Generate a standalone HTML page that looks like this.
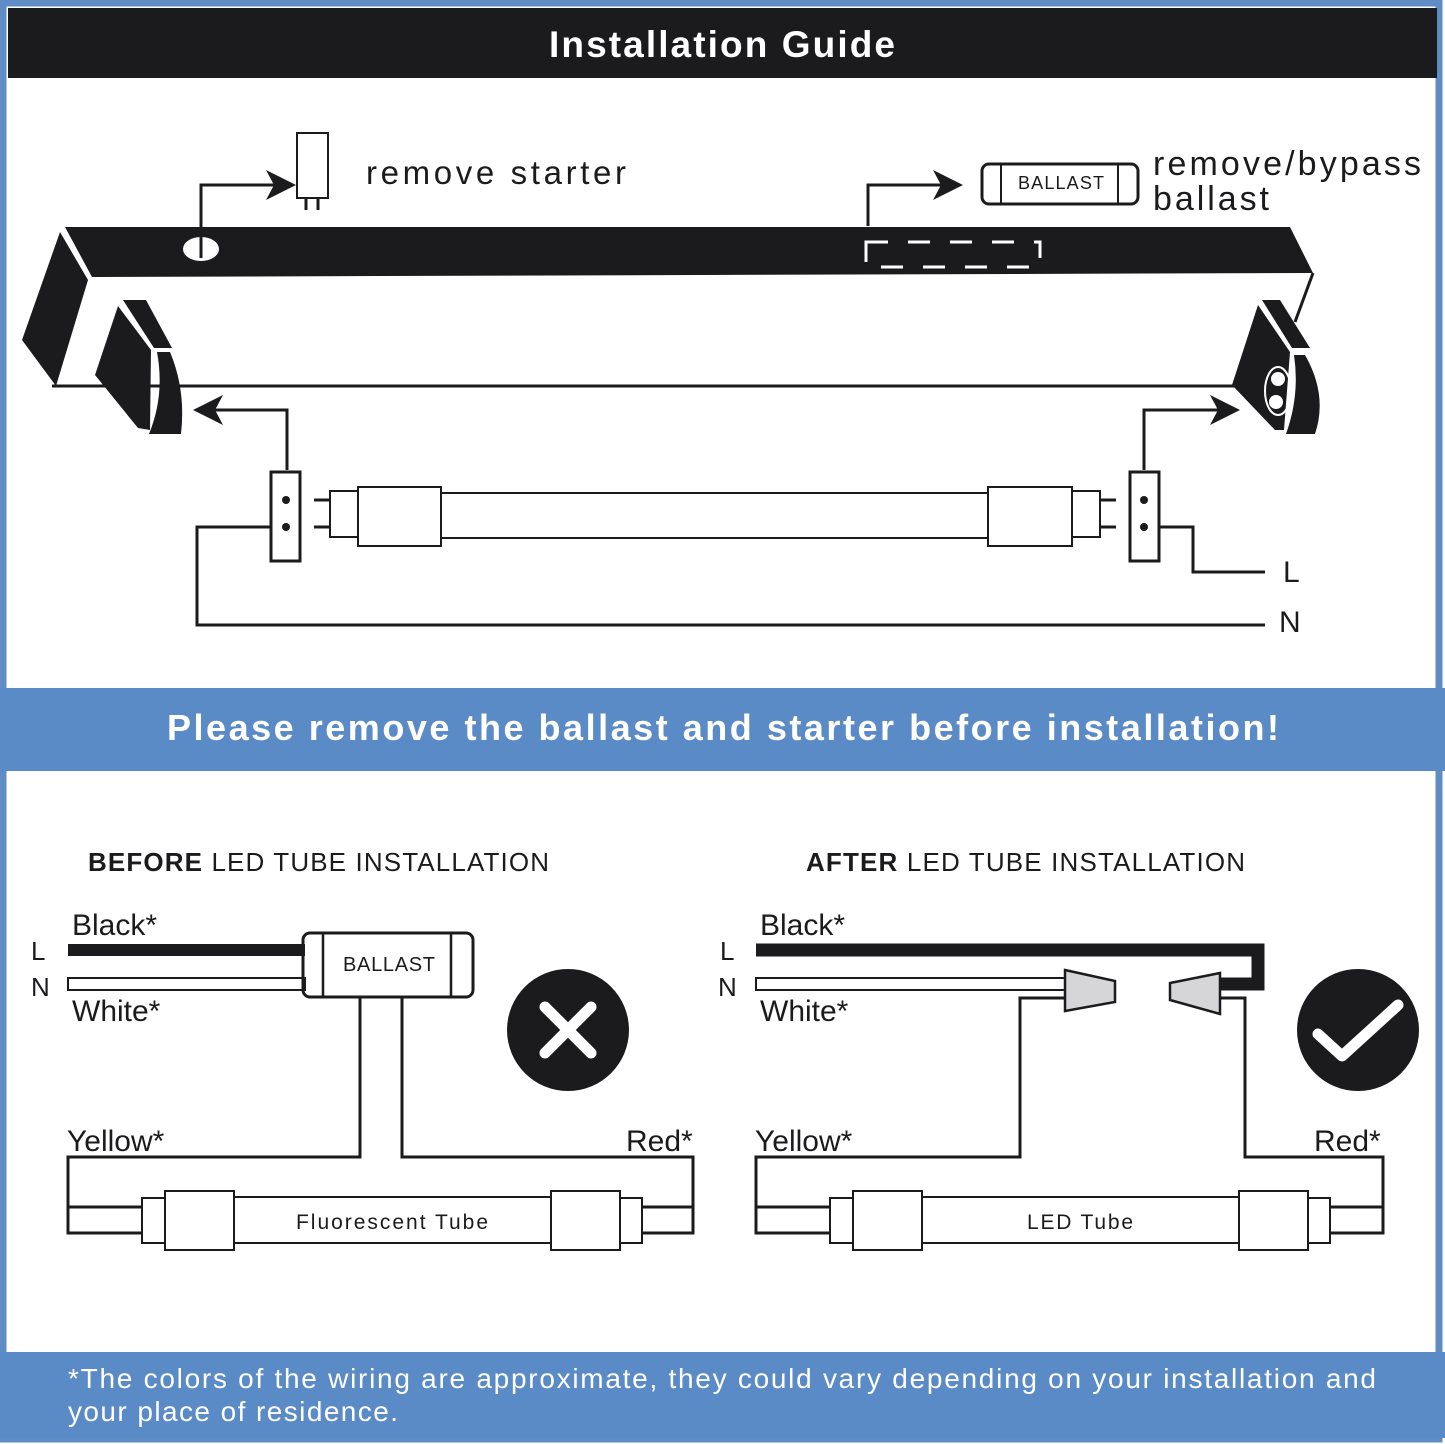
<!DOCTYPE html>
<html><head><meta charset="utf-8"><style>
html,body{margin:0;padding:0;background:#fff}
svg{display:block}
text{font-family:"Liberation Sans",sans-serif}
</style></head><body>
<svg width="1445" height="1444" viewBox="0 0 1445 1444" xmlns="http://www.w3.org/2000/svg">
<rect x="0" y="0" width="1445" height="1444" fill="#fff"/>
<!-- frame -->
<rect x="3" y="3" width="1436" height="1436" fill="none" stroke="#5f8cc4" stroke-width="7"/>
<rect x="8" y="8" width="1429" height="70" fill="#1b1b1d"/>
<text x="722" y="57" font-size="37" font-weight="bold" fill="#fff" text-anchor="middle" textLength="346">Installation Guide</text>
<rect x="0" y="688" width="1445" height="83" fill="#5b8bc7"/>
<text x="723" y="740" font-size="36" font-weight="bold" fill="#fff" text-anchor="middle" textLength="1112">Please remove the ballast and starter before installation!</text>
<rect x="0" y="1352" width="1445" height="86" fill="#5b8bc7"/>
<text x="68" y="1388" font-size="28" fill="#fff" textLength="1308">*The colors of the wiring are approximate, they could vary depending on your installation and</text>
<text x="68" y="1421" font-size="28" fill="#fff" textLength="330">your place of residence.</text>

<g fill="#1b1b1d" stroke="none">
<!-- top bar -->
<polygon points="65,227 1290,227 1313,273 92,277"/>
<polygon points="60,232 88,280 56,386 22,340"/>
<!-- left end cap -->
<polygon points="123,300 146,300 172,348 154,348"/>
<polygon points="118,306 151,350 150,430 138,428 95,375"/>
<path d="M157,352 L170,352 Q186,390 181,434 L149,434 Q165,395 157,352 Z"/>
<!-- right end cap -->
<polygon points="1262,300 1280,300 1310,348 1292,348"/>
<polygon points="1258,305 1290,352 1284,430 1275,430 1232,385"/>
<path d="M1294,355 L1305,355 Q1328,395 1315,434 L1286,434 Q1300,395 1294,355 Z"/>
</g>
<line x1="1313" y1="273" x2="1295" y2="322" stroke="#1b1b1d" stroke-width="3"/>
<ellipse cx="1278" cy="391" rx="13" ry="24" fill="none" stroke="#fff" stroke-width="2"/>
<circle cx="1278" cy="379" r="7" fill="#fff"/>
<circle cx="1276" cy="402" r="7" fill="#fff"/>
<line x1="52" y1="386" x2="1242" y2="386" stroke="#1b1b1d" stroke-width="3"/>
<!-- starter hole -->
<ellipse cx="201" cy="249" rx="18" ry="12" fill="#fff"/>
<g fill="none" stroke="#1b1b1d" stroke-width="3">
<polyline points="201,258 201,185 280,185"/>
<rect x="297" y="133" width="31" height="65" stroke-width="2"/>
<line x1="306" y1="198" x2="306" y2="210"/><line x1="318" y1="198" x2="318" y2="210"/>
<polyline points="868,226 868,185 948,185"/>
<rect x="982" y="164" width="156" height="40" rx="7"/>
<line x1="1001" y1="164" x2="1001" y2="204" stroke-width="2"/>
<line x1="1118" y1="164" x2="1118" y2="204" stroke-width="2"/>
<!-- tube arrows -->
<polyline points="287,470 287,410 210,410"/>
<polyline points="1144,470 1144,410 1225,410"/>
</g>
<rect x="866" y="242" width="174" height="25" fill="none" stroke="#fff" stroke-width="3" stroke-dasharray="22,20"/>
<g fill="#1b1b1d">
<polygon points="296,185 266,170 274,185 266,200"/>
<polygon points="963,185 933,170 941,185 933,200"/>
<polygon points="193,410 223,395 215,410 223,425"/>
<polygon points="1240,410 1210,395 1218,410 1210,425"/>
</g>
<text x="366" y="184" font-size="33" fill="#1b1b1d" textLength="260">remove starter</text>
<text x="1061" y="189" font-size="18" fill="#1b1b1d" text-anchor="middle" textLength="86">BALLAST</text>
<text x="1153" y="175" font-size="34" fill="#1b1b1d" textLength="268">remove/bypass</text>
<text x="1153" y="210" font-size="34" fill="#1b1b1d" textLength="116">ballast</text>
<!-- tube top -->
<g fill="none" stroke="#1b1b1d" stroke-width="2">
<rect x="271" y="472" width="29" height="89" stroke-width="3"/>
<rect x="1130" y="472" width="29" height="89" stroke-width="3"/>
<rect x="330" y="491" width="28" height="46"/>
<rect x="358" y="487" width="83" height="59"/>
<rect x="441" y="493" width="547" height="45"/>
<rect x="988" y="487" width="84" height="59"/>
<rect x="1072" y="491" width="28" height="46"/>
<line x1="314" y1="500" x2="330" y2="500" stroke-width="3"/><line x1="314" y1="527" x2="330" y2="527" stroke-width="3"/>
<line x1="1100" y1="500" x2="1116" y2="500" stroke-width="3"/><line x1="1100" y1="527" x2="1116" y2="527" stroke-width="3"/>
<polyline points="271,527 197,527 197,625 1265,625" stroke-width="3"/>
<polyline points="1159,527 1193,527 1193,572 1265,572" stroke-width="3"/>
</g>
<g fill="#1b1b1d"><circle cx="286" cy="500" r="4"/><circle cx="286" cy="527" r="4"/><circle cx="1144" cy="500" r="4"/><circle cx="1144" cy="527" r="4"/></g>
<text x="1283" y="582" font-size="30" fill="#1b1b1d">L</text>
<text x="1279" y="632" font-size="30" fill="#1b1b1d">N</text>

<!-- BEFORE -->
<text x="88" y="871" font-size="26" fill="#1b1b1d" textLength="461"><tspan font-weight="bold">BEFORE</tspan> LED TUBE INSTALLATION</text>
<text x="72" y="935" font-size="30" fill="#1b1b1d">Black*</text>
<text x="72" y="1021" font-size="30" fill="#1b1b1d">White*</text>
<text x="31" y="960" font-size="26" fill="#1b1b1d">L</text>
<text x="31" y="996" font-size="26" fill="#1b1b1d">N</text>
<rect x="68" y="944" width="237" height="12" fill="#1b1b1d"/>
<g fill="none" stroke="#1b1b1d" stroke-width="2.5">
<rect x="68" y="978" width="237" height="12" stroke-width="2"/>
<rect x="303" y="933" width="170" height="64" rx="7" stroke-width="3"/>
<line x1="323" y1="933" x2="323" y2="997"/><line x1="451" y1="933" x2="451" y2="997"/>
<polyline points="360,997 360,1157 68,1157 68,1233 142,1233" stroke-width="3"/>
<polyline points="402,997 402,1157 693,1157 693,1233 642,1233" stroke-width="3"/>
<line x1="68" y1="1207" x2="142" y2="1207" stroke-width="3"/>
<line x1="642" y1="1207" x2="693" y2="1207" stroke-width="3"/>
<rect x="142" y="1198" width="23" height="45" stroke-width="2"/>
<rect x="165" y="1191" width="69" height="59" stroke-width="2"/>
<rect x="234" y="1197" width="317" height="46" stroke-width="2"/>
<rect x="551" y="1191" width="69" height="59" stroke-width="2"/>
<rect x="620" y="1198" width="22" height="45" stroke-width="2"/>
</g>
<text x="389" y="971" font-size="20" fill="#1b1b1d" text-anchor="middle" textLength="92">BALLAST</text>
<text x="67" y="1151" font-size="30" fill="#1b1b1d">Yellow*</text>
<text x="626" y="1151" font-size="30" fill="#1b1b1d">Red*</text>
<text x="392" y="1229" font-size="21" fill="#1b1b1d" text-anchor="middle" textLength="192">Fluorescent Tube</text>
<circle cx="568" cy="1030" r="61" fill="#1b1b1d"/>
<path d="M545,1007 L591,1053 M591,1007 L545,1053" stroke="#fff" stroke-width="11" stroke-linecap="round"/>

<!-- AFTER -->
<text x="806" y="871" font-size="26" fill="#1b1b1d" textLength="439"><tspan font-weight="bold">AFTER</tspan> LED TUBE INSTALLATION</text>
<text x="760" y="935" font-size="30" fill="#1b1b1d">Black*</text>
<text x="760" y="1021" font-size="30" fill="#1b1b1d">White*</text>
<text x="720" y="960" font-size="26" fill="#1b1b1d">L</text>
<text x="718" y="996" font-size="26" fill="#1b1b1d">N</text>
<polyline points="756,950 1258,950 1258,984 1218,984" fill="none" stroke="#1b1b1d" stroke-width="13"/>
<g fill="none" stroke="#1b1b1d" stroke-width="2.5">
<rect x="756" y="978" width="310" height="12" stroke-width="2"/>
<polyline points="1066,998 1020,998 1020,1157 756,1157 756,1233 830,1233" stroke-width="3"/>
<polyline points="1220,998 1245,998 1245,1157 1383,1157 1383,1233 1330,1233" stroke-width="3"/>
<line x1="756" y1="1207" x2="830" y2="1207" stroke-width="3"/>
<line x1="1330" y1="1207" x2="1383" y2="1207" stroke-width="3"/>
<rect x="830" y="1198" width="23" height="45" stroke-width="2"/>
<rect x="853" y="1191" width="69" height="59" stroke-width="2"/>
<rect x="922" y="1197" width="317" height="46" stroke-width="2"/>
<rect x="1239" y="1191" width="69" height="59" stroke-width="2"/>
<rect x="1308" y="1198" width="22" height="45" stroke-width="2"/>
</g>
<polygon points="1065,970 1115,981 1115,1002 1065,1011" fill="#d6d6d8" stroke="#1b1b1d" stroke-width="2.5"/>
<polygon points="1220,973 1170,983 1170,1000 1220,1014" fill="#d6d6d8" stroke="#1b1b1d" stroke-width="2.5"/>
<text x="755" y="1151" font-size="30" fill="#1b1b1d">Yellow*</text>
<text x="1314" y="1151" font-size="30" fill="#1b1b1d">Red*</text>
<text x="1080" y="1229" font-size="21" fill="#1b1b1d" text-anchor="middle" textLength="106">LED Tube</text>
<circle cx="1358" cy="1030" r="61" fill="#1b1b1d"/>
<path d="M1318,1034 L1342,1056 L1398,1005" fill="none" stroke="#fff" stroke-width="11" stroke-linecap="round" stroke-linejoin="round"/>
</svg>
</body></html>
